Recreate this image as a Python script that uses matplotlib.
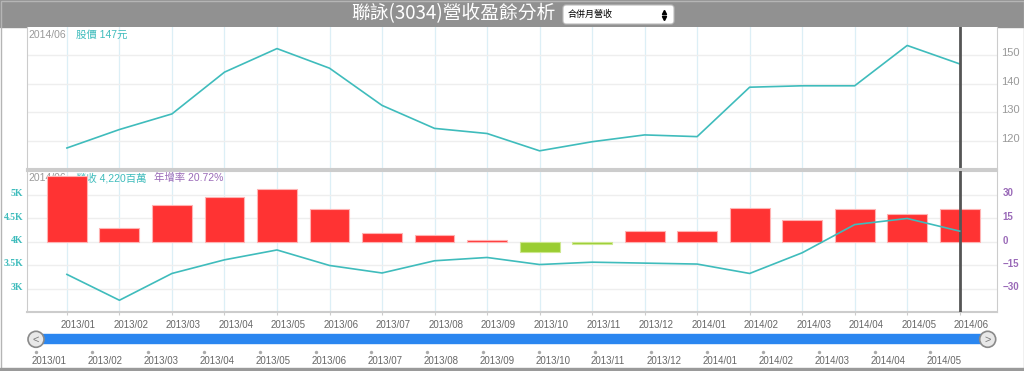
#!/usr/bin/env python3
"""
Monthly revenue / share price dashboard for 聯詠(3034).

Top: share price line. Bottom: YoY growth bars + monthly revenue line.
"""

import matplotlib
matplotlib.use("Agg")
import matplotlib.pyplot as plt
from matplotlib.patches import Rectangle, Circle, FancyBboxPatch
from matplotlib.transforms import ScaledTranslation

plt.rcParams['font.family'] = ['Liberation Sans', 'Noto Sans CJK TC', 'DejaVu Sans']

# --- data ---
months = ['2013/01', '2013/02', '2013/03', '2013/04', '2013/05', '2013/06',
          '2013/07', '2013/08', '2013/09', '2013/10', '2013/11', '2013/12',
          '2014/01', '2014/02', '2014/03', '2014/04', '2014/05', '2014/06']
price = [117.4, 123.9, 129.4, 144.1, 152.4, 145.5, 132.4, 124.3, 122.5,
         116.4, 119.6, 122.0, 121.4, 138.8, 139.3, 139.3, 153.5, 147.0]
revenue_k = [3.30, 2.75, 3.32, 3.61, 3.82, 3.49, 3.33, 3.59, 3.66,
             3.51, 3.56, 3.54, 3.52, 3.32, 3.76, 4.36, 4.49, 4.22]
yoy = [41.7, 8.7, 23.2, 28.6, 33.3, 20.6, 5.3, 4.2, 1.1,
       -6.7, -1.9, 6.7, 6.5, 21.3, 13.9, 20.8, 17.5, 20.72]
price_ticks = [120, 130, 140, 150]
rev_ticks = [3, 3.5, 4, 4.5, 5]
rev_labels = ['3K', '3.5K', '4K', '4.5K', '5K']
yoy_ticks = [-30, -15, 0, 15, 30]
nav_labels = months[:-1]

TEAL = '#3fbcbc'
PURPLE = '#9a6ab8'
GRAY = '#999999'
RED = '#ff3333'
GREEN = '#9acd32'
VGRID = '#dceff6'
HGRID = '#eeeeee'


def px(x, y):
    """pixel (from top-left) -> figure fraction"""
    return x / 1024, 1 - y / 371


def nudge(labels, fig, dx=0, dy=0):
    """shift tick labels by a few pixels"""
    t = ScaledTranslation(dx / 100, dy / 100, fig.dpi_scale_trans)
    for lbl in labels:
        lbl.set_transform(lbl.get_transform() + t)


def main():
    fig = plt.figure(figsize=(10.24, 3.71), dpi=100)
    fig.patch.set_facecolor('white')
    x = list(range(len(months)))
    xlim = (-0.76, 17.71)
    sel = len(months) - 1

    # background / decorations in pixel coords
    bg = fig.add_axes([0, 0, 1, 1], zorder=0)
    bg.set_xlim(0, 1024)
    bg.set_ylim(371, 0)
    bg.axis('off')
    bg.add_patch(Rectangle((0, 0), 1024, 26.5, color='#919191'))
    bg.text(453, 14, '聯詠(3034)營收盈餘分析', color='white', fontsize=13.5,
            family=['Noto Sans CJK TC'], ha='center', va='center')
    bg.add_patch(FancyBboxPatch((563, 5), 111, 19, boxstyle='round,pad=0,rounding_size=3',
                                facecolor='white', edgecolor='#bbbbbb', lw=0.8))
    bg.text(568, 14.5, '合併月營收', fontsize=6.5, color='black',
            family=['Noto Sans CJK TC'], ha='left', va='center')
    bg.plot([664], [11.5], marker='^', ms=3, color='black')
    bg.plot([664], [17.5], marker='v', ms=3, color='black')
    bg.add_patch(Rectangle((0.5, 0.5), 1023, 370, fill=False, edgecolor='#b5b5b5', lw=1))
    bg.add_patch(Rectangle((0, 368), 1024, 3, color='#9a9a9a'))

    # navigator slider
    bg.add_patch(Rectangle((38, 334.3), 950, 8.4, color='#2a86f0'))
    for cx, sym in [(36, '<'), (987.7, '>')]:
        bg.add_patch(Circle((cx, 339.3), 8, facecolor='#e8e8e8', edgecolor='#8a8a8a', lw=1.2))
        bg.text(cx, 339.8, sym, fontsize=8, color='#777777', ha='center', va='center')
    nav_x = [36 + i * 55.9 for i in range(len(nav_labels))]
    bg.scatter(nav_x, [351.7] * len(nav_x), s=6, color='#aaaaaa', linewidths=0)
    for nx, lab in zip(nav_x, nav_labels):
        bg.text(nx - 4, 361, lab, fontsize=7, color='#666666', ha='left', va='center')

    # 1. price panel (top)
    ax1 = fig.add_axes([27 / 1024, 1 - 169 / 371, 970 / 1024, 142 / 371], zorder=1)
    ax1.plot(x, price, color=TEAL, lw=1.2)
    ax1.axvline(sel, color='#555555', lw=2)
    ax1.set_xlim(*xlim)
    ax1.set_ylim(110, 160)
    ax1.set_xticks(x)
    ax1.set_yticks(price_ticks)
    ax1.yaxis.tick_right()
    ax1.tick_params(axis='x', length=0, labelbottom=False)
    ax1.tick_params(axis='y', length=0, pad=3, labelsize=8, labelcolor=GRAY)
    nudge(ax1.get_yticklabels(), fig, dy=3)
    ax1.grid(axis='x', color=VGRID, lw=0.9)
    ax1.grid(axis='y', color=HGRID, lw=1)
    ax1.set_axisbelow(True)
    for side, sp in ax1.spines.items():
        sp.set_color('#cccccc')
    ax1.spines['top'].set_visible(False)
    ax1.spines['bottom'].set_linewidth(1.5)

    fig.text(*px(28, 35), months[sel], fontsize=7.5, color=GRAY, va='center')
    fig.text(*px(76, 35), f'股價 {price[sel]:.0f}元', fontsize=7.5, color=TEAL, va='center')

    # 2. revenue panel (bottom): yoy bars on right axis, revenue line on left axis
    ax2 = fig.add_axes([27 / 1024, 1 - 312 / 371, 970 / 1024, 141 / 371], zorder=1)
    ax3 = ax2.twinx()

    colors = [RED if v >= 0 else GREEN for v in yoy]
    edges = ['#ffb3b3' if v >= 0 else '#cde88f' for v in yoy]
    ax2.bar(x, yoy, width=0.76, color=colors, edgecolor=edges, lw=0.8, zorder=2)
    ax2.axvline(sel, color='#555555', lw=2, zorder=4)
    ax2.set_xlim(*xlim)
    ax2.set_ylim(-45, 45)
    ax2.set_yticks(yoy_ticks)
    ax2.yaxis.tick_right()
    ax2.tick_params(axis='y', length=0, pad=4, labelsize=7, labelcolor=PURPLE)
    for lbl in ax2.get_yticklabels():
        lbl.set_fontweight('bold')
    nudge(ax2.get_yticklabels(), fig, dy=2)
    ax2.set_xticks(x)
    ax2.set_xticklabels(months, fontsize=7, color='#666666')
    ax2.tick_params(axis='x', length=2.5, color='#cccccc', pad=3)
    for lbl in ax2.get_xticklabels():
        lbl.set_ha('left')
    nudge(ax2.get_xticklabels(), fig, dx=-6)
    ax2.grid(axis='x', color=VGRID, lw=0.9)
    ax2.grid(axis='y', color=HGRID, lw=1)
    ax2.set_axisbelow(True)
    for side, sp in ax2.spines.items():
        sp.set_color('#cccccc')
    ax2.spines['top'].set_linewidth(1.5)
    ax2.spines['bottom'].set_linewidth(1.5)

    # header text sits behind the bars
    ax2.text(*px(28, 178.3), months[sel], transform=fig.transFigure, fontsize=7.5,
             color=GRAY, va='center', zorder=1)
    ax2.text(*px(76, 178.3), f'營收 {revenue_k[sel] * 1000:,.0f}百萬', transform=fig.transFigure,
             fontsize=7.5, color=TEAL, va='center', zorder=1)
    ax2.text(*px(154, 178.3), f'年增率 {yoy[sel]:.2f}%', transform=fig.transFigure,
             fontsize=7.5, color=PURPLE, va='center', zorder=1)

    # revenue line on the twin, labels on the left
    ax3.plot(x, revenue_k, color=TEAL, lw=1.2, zorder=3)
    ax3.set_ylim(2.5, 5.5)
    ax3.set_yticks(rev_ticks)
    ax3.set_yticklabels(rev_labels, family=['Liberation Serif'], fontweight='bold')
    ax3.yaxis.tick_left()
    ax3.tick_params(axis='y', length=0, pad=2.5, labelsize=7, labelcolor=TEAL)
    nudge(ax3.get_yticklabels(), fig, dy=2)
    for sp in ax3.spines.values():
        sp.set_visible(False)

    fig.savefig('out.png', dpi=100)
    plt.close(fig)


if __name__ == "__main__":
    main()
